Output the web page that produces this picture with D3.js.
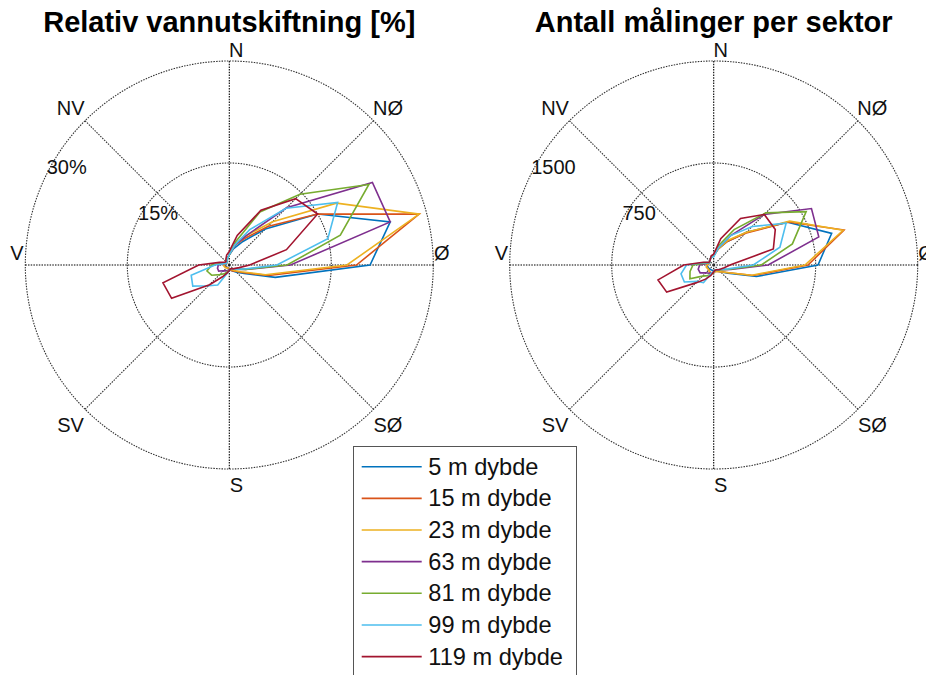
<!DOCTYPE html>
<html>
<head>
<meta charset="utf-8">
<script src="https://cdn.jsdelivr.net/npm/d3@7"></script>
<style>
  body { margin: 0; background: #fff; }
  svg { display: block; font-family: "Liberation Sans", Arial, sans-serif; }
</style>
</head>
<body>
<svg id="chart" width="926" height="675"></svg>
<script>
// sector directions (degrees clockwise from north)
const sectors = [0, 15, 30, 45, 60, 75, 90, 105, 120, 135, 150, 165,
                 180, 195, 210, 225, 240, 255, 270, 285, 300, 315, 330, 345];

const depths = ["5 m dybde", "15 m dybde", "23 m dybde", "63 m dybde",
                "81 m dybde", "99 m dybde", "119 m dybde"];
const colors = ["#0072BD", "#D95319", "#EDB120", "#7E2F8E", "#77AC30", "#4DBEEE", "#A2142F"];

// relative water exchange [%] per sector
const pct5   = [1.5, 2.5, 4, 7.5, 15, 24.5, 20.7, 7, 2.5, 1.5, 1, 0.8, 0.6, 0.5, 0.5, 0.5, 0.5, 0.6, 0.6, 0.5, 0.5, 0.6, 0.8, 1];
const pct15  = [1.5, 3, 4.5, 8, 15, 28.9, 18.7, 6, 2.2, 1.3, 1, 0.8, 0.6, 0.5, 0.5, 0.5, 0.6, 0.7, 0.8, 0.6, 0.5, 0.6, 0.8, 1];
const pct23  = [1.5, 3, 5, 9, 18.2, 28.9, 17.3, 5.5, 2, 1.2, 0.8, 0.7, 0.6, 0.5, 0.5, 0.6, 0.7, 0.8, 0.8, 0.6, 0.5, 0.6, 0.8, 1];
const pct63  = [1.5, 3, 5, 11.9, 24.3, 24.5, 9, 2.5, 1.2, 0.8, 0.6, 0.6, 0.6, 0.8, 1, 1.2, 1.8, 1.8, 1.6, 0.8, 0.5, 0.5, 0.7, 1];
const pct81  = [1.5, 3.5, 9, 14.7, 23.7, 16.9, 8.5, 2.5, 1.2, 0.8, 0.6, 0.6, 0.7, 1, 1.5, 2, 3, 3.4, 2.6, 1, 0.5, 0.5, 0.7, 1];
const pct99  = [1.5, 3, 6, 11.8, 18.4, 15, 7, 2.3, 1.2, 0.8, 0.6, 0.6, 0.8, 1.3, 3.4, 4.3, 6.2, 5.8, 2.1, 0.8, 0.5, 0.5, 0.7, 1];
const pct119 = [2, 4.5, 9.3, 13.8, 15, 8.7, 3, 1.5, 1, 0.8, 0.6, 0.6, 0.8, 1.2, 2, 4.1, 9.8, 10.1, 4.5, 1.5, 0.8, 0.7, 1, 1.5];

// number of measurements per sector
const cnt5   = [70, 120, 200, 340, 628, 898, 767, 326, 120, 70, 50, 40, 40, 40, 40, 40, 45, 45, 50, 40, 35, 40, 50, 60];
const cnt15  = [70, 120, 200, 330, 632, 992, 693, 300, 110, 70, 55, 50, 55, 60, 60, 50, 50, 55, 50, 40, 35, 40, 50, 60];
const cnt23  = [70, 120, 210, 340, 645, 985, 671, 290, 110, 70, 55, 50, 55, 60, 60, 50, 50, 55, 50, 40, 35, 40, 50, 60];
const cnt63  = [70, 130, 250, 525, 830, 800, 400, 130, 70, 50, 40, 40, 50, 60, 70, 80, 115, 118, 103, 50, 35, 40, 50, 60];
const cnt81  = [70, 150, 300, 542, 785, 599, 350, 120, 70, 50, 40, 40, 50, 70, 90, 116, 202, 180, 152, 60, 35, 40, 50, 60];
const cnt99  = [60, 130, 250, 400, 615, 504, 291, 110, 60, 50, 40, 40, 50, 60, 150, 170, 249, 249, 200, 70, 35, 40, 50, 60];
const cnt119 = [80, 200, 395, 526, 523, 454, 120, 80, 60, 50, 40, 40, 50, 80, 120, 186, 399, 424, 220, 80, 40, 40, 50, 70];

const pctTicks = [15, 30];
const pctTickLabels = ["15%", "30%"];
const cntTicks = [750, 1500];
const cntTickLabels = ["750", "1500"];

const compassLabels = ["N", "NØ", "Ø", "SØ", "S", "SV", "V", "NV"];
const compassAngles = [0, 45, 90, 135, 180, 225, 270, 315];

const svg = d3.select("#chart");
const R = 204;
const rad = Math.PI / 180;

function drawRose(cx, cy, title, series, ticks, tickLabels) {
  const g = svg.append("g").attr("transform", `translate(${cx},${cy})`);
  const r = d3.scaleLinear().domain([0, d3.max(ticks)]).range([0, R]);

  // grid circles
  g.selectAll(".ring")
    .data(ticks)
    .enter()
    .append("circle")
    .attr("r", d => r(d))
    .attr("fill", "none")
    .attr("stroke", "#333")
    .attr("stroke-width", 1.1)
    .attr("stroke-dasharray", "1.5,1.2");

  // spokes
  g.selectAll(".spoke")
    .data(compassAngles)
    .enter()
    .append("line")
    .attr("x1", 0).attr("y1", 0)
    .attr("x2", d => r(d3.max(ticks)) * Math.sin(d * rad))
    .attr("y2", d => -r(d3.max(ticks)) * Math.cos(d * rad))
    .attr("stroke", d => d % 90 === 0 ? "#000" : "#333")
    .attr("stroke-width", 1.1)
    .attr("stroke-dasharray", "1.5,1.2");

  // radial tick labels
  const tickAng = 26.5 * rad;
  g.selectAll(".rlabel")
    .data(ticks)
    .enter()
    .append("text")
    .attr("x", d => -r(d) * Math.cos(tickAng))
    .attr("y", d => -r(d) * Math.sin(tickAng))
    .attr("font-size", "20px")
    .attr("fill", "#111")
    .text((d, i) => tickLabels[i]);

  // direction labels
  const rl = 1.1 * R;
  g.selectAll(".clabel")
    .data(compassAngles)
    .enter()
    .append("text")
    .attr("x", d => {
      let x = rl * Math.sin(d * rad);
      if (d === 0 || d === 180) x += 7;
      if (d === 90) x -= 12;
      if (d === 270) x += 12;
      return x;
    })
    .attr("y", d => {
      let y = -rl * Math.cos(d * rad);
      if (d === 0) y += 9;
      else if (d === 180) y -= 4;
      else if (d === 90 || d === 270) y -= 12;
      else y += 1.5;
      return y;
    })
    .attr("text-anchor", "middle")
    .attr("dominant-baseline", "central")
    .attr("font-size", "20px")
    .attr("fill", "#111")
    .text((d, i) => compassLabels[i]);

  // data polygons
  const line = d3.lineRadial()
    .angle((d, i) => sectors[i] * rad)
    .radius(d => r(d))
    .curve(d3.curveLinearClosed);

  g.selectAll(".series")
    .data(series)
    .enter()
    .append("path")
    .attr("d", d => line(d))
    .attr("fill", "none")
    .attr("stroke", (d, i) => colors[i])
    .attr("stroke-width", 1.6)
    .attr("stroke-linejoin", "miter");

  // title
  svg.append("text")
    .attr("x", cx)
    .attr("y", 32)
    .attr("text-anchor", "middle")
    .attr("font-size", "29px")
    .attr("font-weight", "bold")
    .attr("fill", "#000")
    .text(title);
}

drawRose(229.3, 265, "Relativ vannutskiftning [%]",
  [pct5, pct15, pct23, pct63, pct81, pct99, pct119], pctTicks, pctTickLabels);
drawRose(713.7, 265, "Antall målinger per sektor",
  [cnt5, cnt15, cnt23, cnt63, cnt81, cnt99, cnt119], cntTicks, cntTickLabels);

// legend
const legend = svg.append("g");
legend.append("rect")
  .attr("x", 353.5)
  .attr("y", 446.5)
  .attr("width", 223)
  .attr("height", 250)
  .attr("fill", "#fff")
  .attr("stroke", "#555")
  .attr("stroke-width", 1);

const rowY = (d, i) => 466.7 + i * 31.65;
legend.selectAll(".lline")
  .data(depths)
  .enter()
  .append("line")
  .attr("x1", 361.7).attr("x2", 421.7)
  .attr("y1", rowY).attr("y2", rowY)
  .attr("stroke", (d, i) => colors[i])
  .attr("stroke-width", 1.6);

legend.selectAll(".ltext")
  .data(depths)
  .enter()
  .append("text")
  .attr("x", 428.3)
  .attr("y", rowY)
  .attr("dominant-baseline", "central")
  .attr("font-size", "23.6px")
  .attr("fill", "#111")
  .text(d => d);
</script>
</body>
</html>
